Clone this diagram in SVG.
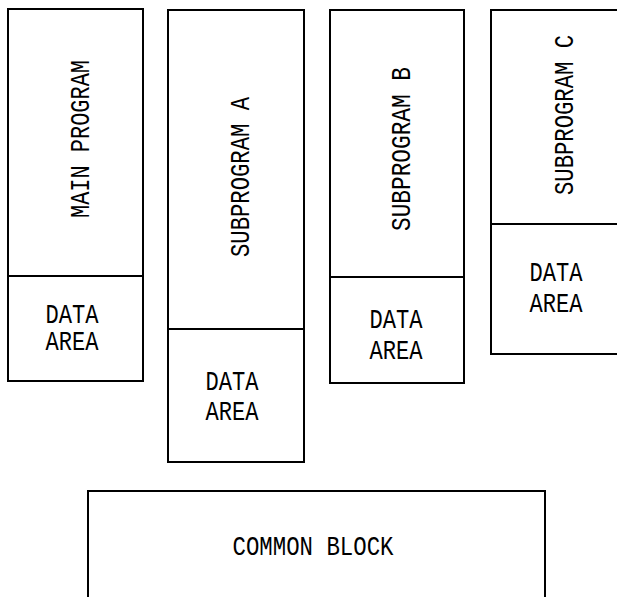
<svg xmlns="http://www.w3.org/2000/svg" width="617" height="597" viewBox="0 0 617 597">
  <style>
    .box { fill: none; stroke: #000; stroke-width: 2; }
    .lbl { font-family: "Liberation Mono", "DejaVu Sans Mono", monospace; font-size: 27px; fill: #000; text-anchor: middle; }
  </style>
  <rect width="617" height="597" fill="#fff"/>

  <g id="main-program">
    <rect class="box" x="8" y="9" width="135" height="372"/>
    <line class="box" x1="8" y1="276" x2="143" y2="276"/>
    <text class="lbl" transform="translate(89,139) rotate(-90)" textLength="158" lengthAdjust="spacingAndGlyphs">MAIN PROGRAM</text>
    <text class="lbl" x="72" y="323" textLength="53" lengthAdjust="spacingAndGlyphs">DATA</text>
    <text class="lbl" x="72" y="350" textLength="53" lengthAdjust="spacingAndGlyphs">AREA</text>
  </g>

  <g id="subprogram-a">
    <rect class="box" x="168" y="10" width="136" height="452"/>
    <line class="box" x1="168" y1="329" x2="304" y2="329"/>
    <text class="lbl" transform="translate(249,177) rotate(-90)" textLength="160" lengthAdjust="spacingAndGlyphs">SUBPROGRAM A</text>
    <text class="lbl" x="232" y="390" textLength="53" lengthAdjust="spacingAndGlyphs">DATA</text>
    <text class="lbl" x="232" y="420" textLength="53" lengthAdjust="spacingAndGlyphs">AREA</text>
  </g>

  <g id="subprogram-b">
    <rect class="box" x="330" y="10" width="134" height="373"/>
    <line class="box" x1="330" y1="277" x2="464" y2="277"/>
    <text class="lbl" transform="translate(410,149) rotate(-90)" textLength="164" lengthAdjust="spacingAndGlyphs">SUBPROGRAM B</text>
    <text class="lbl" x="396" y="328" textLength="53" lengthAdjust="spacingAndGlyphs">DATA</text>
    <text class="lbl" x="396" y="359" textLength="53" lengthAdjust="spacingAndGlyphs">AREA</text>
  </g>

  <g id="subprogram-c">
    <path class="box" d="M618,10 H491 V354 H618 M491,224 H618"/>
    <text class="lbl" transform="translate(573,115) rotate(-90)" textLength="160" lengthAdjust="spacingAndGlyphs">SUBPROGRAM C</text>
    <text class="lbl" x="556" y="281" textLength="53" lengthAdjust="spacingAndGlyphs">DATA</text>
    <text class="lbl" x="556" y="312" textLength="53" lengthAdjust="spacingAndGlyphs">AREA</text>
  </g>

  <g id="common-block">
    <path class="box" d="M88,598 V491 H545 V598"/>
    <text class="lbl" x="313" y="555" textLength="161" lengthAdjust="spacingAndGlyphs">COMMON BLOCK</text>
  </g>

  <g id="connectors"/>
</svg>
